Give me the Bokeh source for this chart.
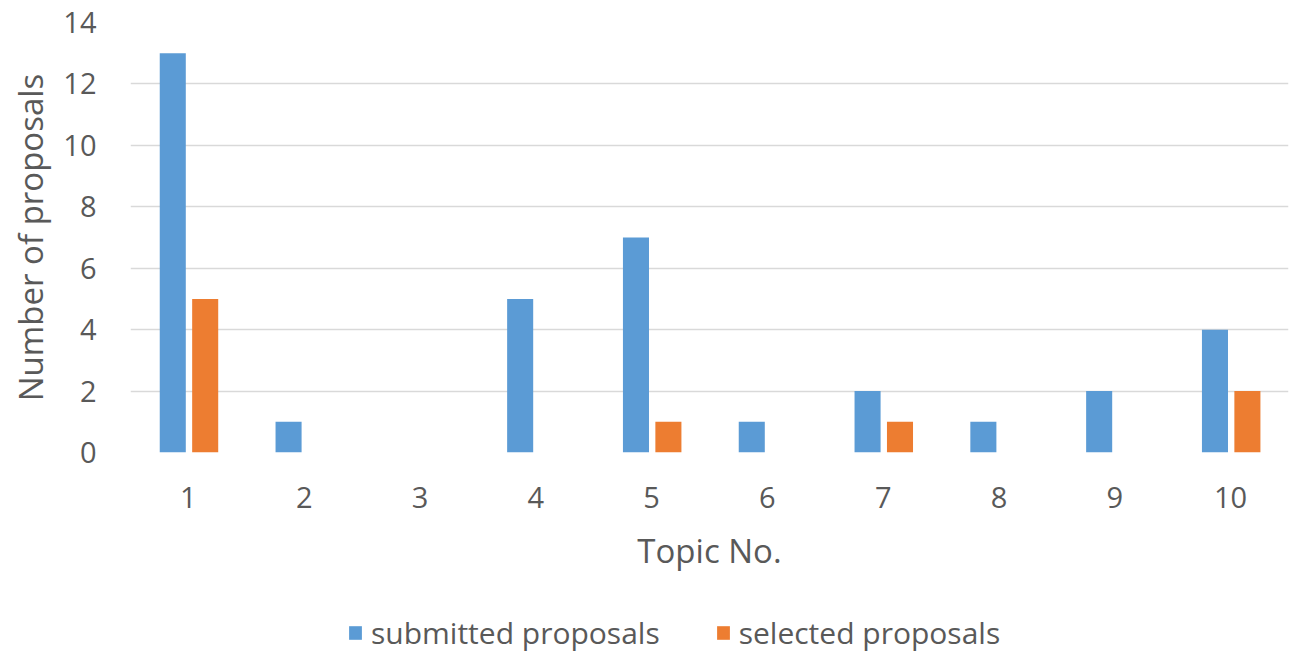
from bokeh.plotting import figure
from bokeh.models import (ColumnDataSource, FactorRange, Range1d, Legend, LegendItem,
                          SingleIntervalTicker)
from bokeh.layouts import column
from bokeh.transform import dodge
from bokeh.embed import file_html
from bokeh.resources import INLINE

topics = ["1", "2", "3", "4", "5", "6", "7", "8", "9", "10"]
submitted = [13, 1, 0, 5, 7, 1, 2, 1, 2, 4]
selected = [5, 0, 0, 0, 1, 0, 1, 0, 0, 2]
series_names = ["submitted proposals", "selected proposals"]
colors = ["#5B9BD5", "#ED7D31"]

src = ColumnDataSource(dict(topic=topics, submitted=submitted, selected=selected))

FONT = "Open Sans"
GRAY = "#595959"

p = figure(width=1289, height=600, x_range=FactorRange(*topics, range_padding=0),
           y_range=Range1d(0, 14), output_backend="svg", toolbar_location=None,
           min_border_left=130, min_border_right=1, min_border_top=22, min_border_bottom=148)
p.outline_line_color = None
p.background_fill_color = "white"

p.vbar(x=dodge("topic", -0.135, range=p.x_range), top="submitted", width=0.225,
       source=src, fill_color=colors[0], line_color=None)
p.vbar(x=dodge("topic", 0.145, range=p.x_range), top="selected", width=0.225,
       source=src, fill_color=colors[1], line_color=None)

p.xgrid.grid_line_color = None
p.ygrid.grid_line_color = "#D9D9D9"
p.ygrid.grid_line_width = 1.5
p.yaxis.ticker = SingleIntervalTicker(interval=2)

for ax in (p.xaxis, p.yaxis):
    ax.axis_line_color = None
    ax.major_tick_line_color = None
    ax.minor_tick_line_color = None
    ax.major_label_text_font = FONT
    ax.major_label_text_font_size = "29px"
    ax.major_label_text_color = GRAY
    ax.axis_label_text_font = FONT
    ax.axis_label_text_font_size = "33px"
    ax.axis_label_text_color = GRAY
    ax.axis_label_text_font_style = "normal"

p.yaxis.axis_label = "Number of proposals"
p.yaxis.major_label_standoff = 28
p.yaxis.axis_label_standoff = 7
p.xaxis.axis_label = "Topic No."
p.xaxis.major_label_standoff = 28
p.xaxis.axis_label_standoff = 17

# legend strip (its frame is aligned with the main plot's frame)
p2 = figure(width=1289, height=53, x_axis_type=None, y_axis_type=None,
            x_range=Range1d(0, 1), y_range=Range1d(0, 1),
            output_backend="svg", toolbar_location=None, min_border=0)
p2.outline_line_color = None
hidden = ColumnDataSource(dict(x=[0.5], top=[0]))
lr = [p2.vbar(x="x", top="top", width=0.0, source=hidden, fill_color=c, line_color=None)
      for c in colors]
legend = Legend(items=[LegendItem(label=n, renderers=[r]) for n, r in zip(series_names, lr)],
                orientation="horizontal", location=(217, 0))
legend.label_text_font = FONT
legend.label_text_font_size = "30px"
legend.label_text_color = GRAY
legend.glyph_width = 16
legend.glyph_height = 17
legend.spacing = 55
legend.label_standoff = 8
legend.border_line_color = None
legend.background_fill_alpha = 0
legend.margin = 0
legend.padding = 0
p2.add_layout(legend, "center")

layout = column(p, p2, spacing=0)
open("out.html", "w").write(file_html(layout, INLINE))
